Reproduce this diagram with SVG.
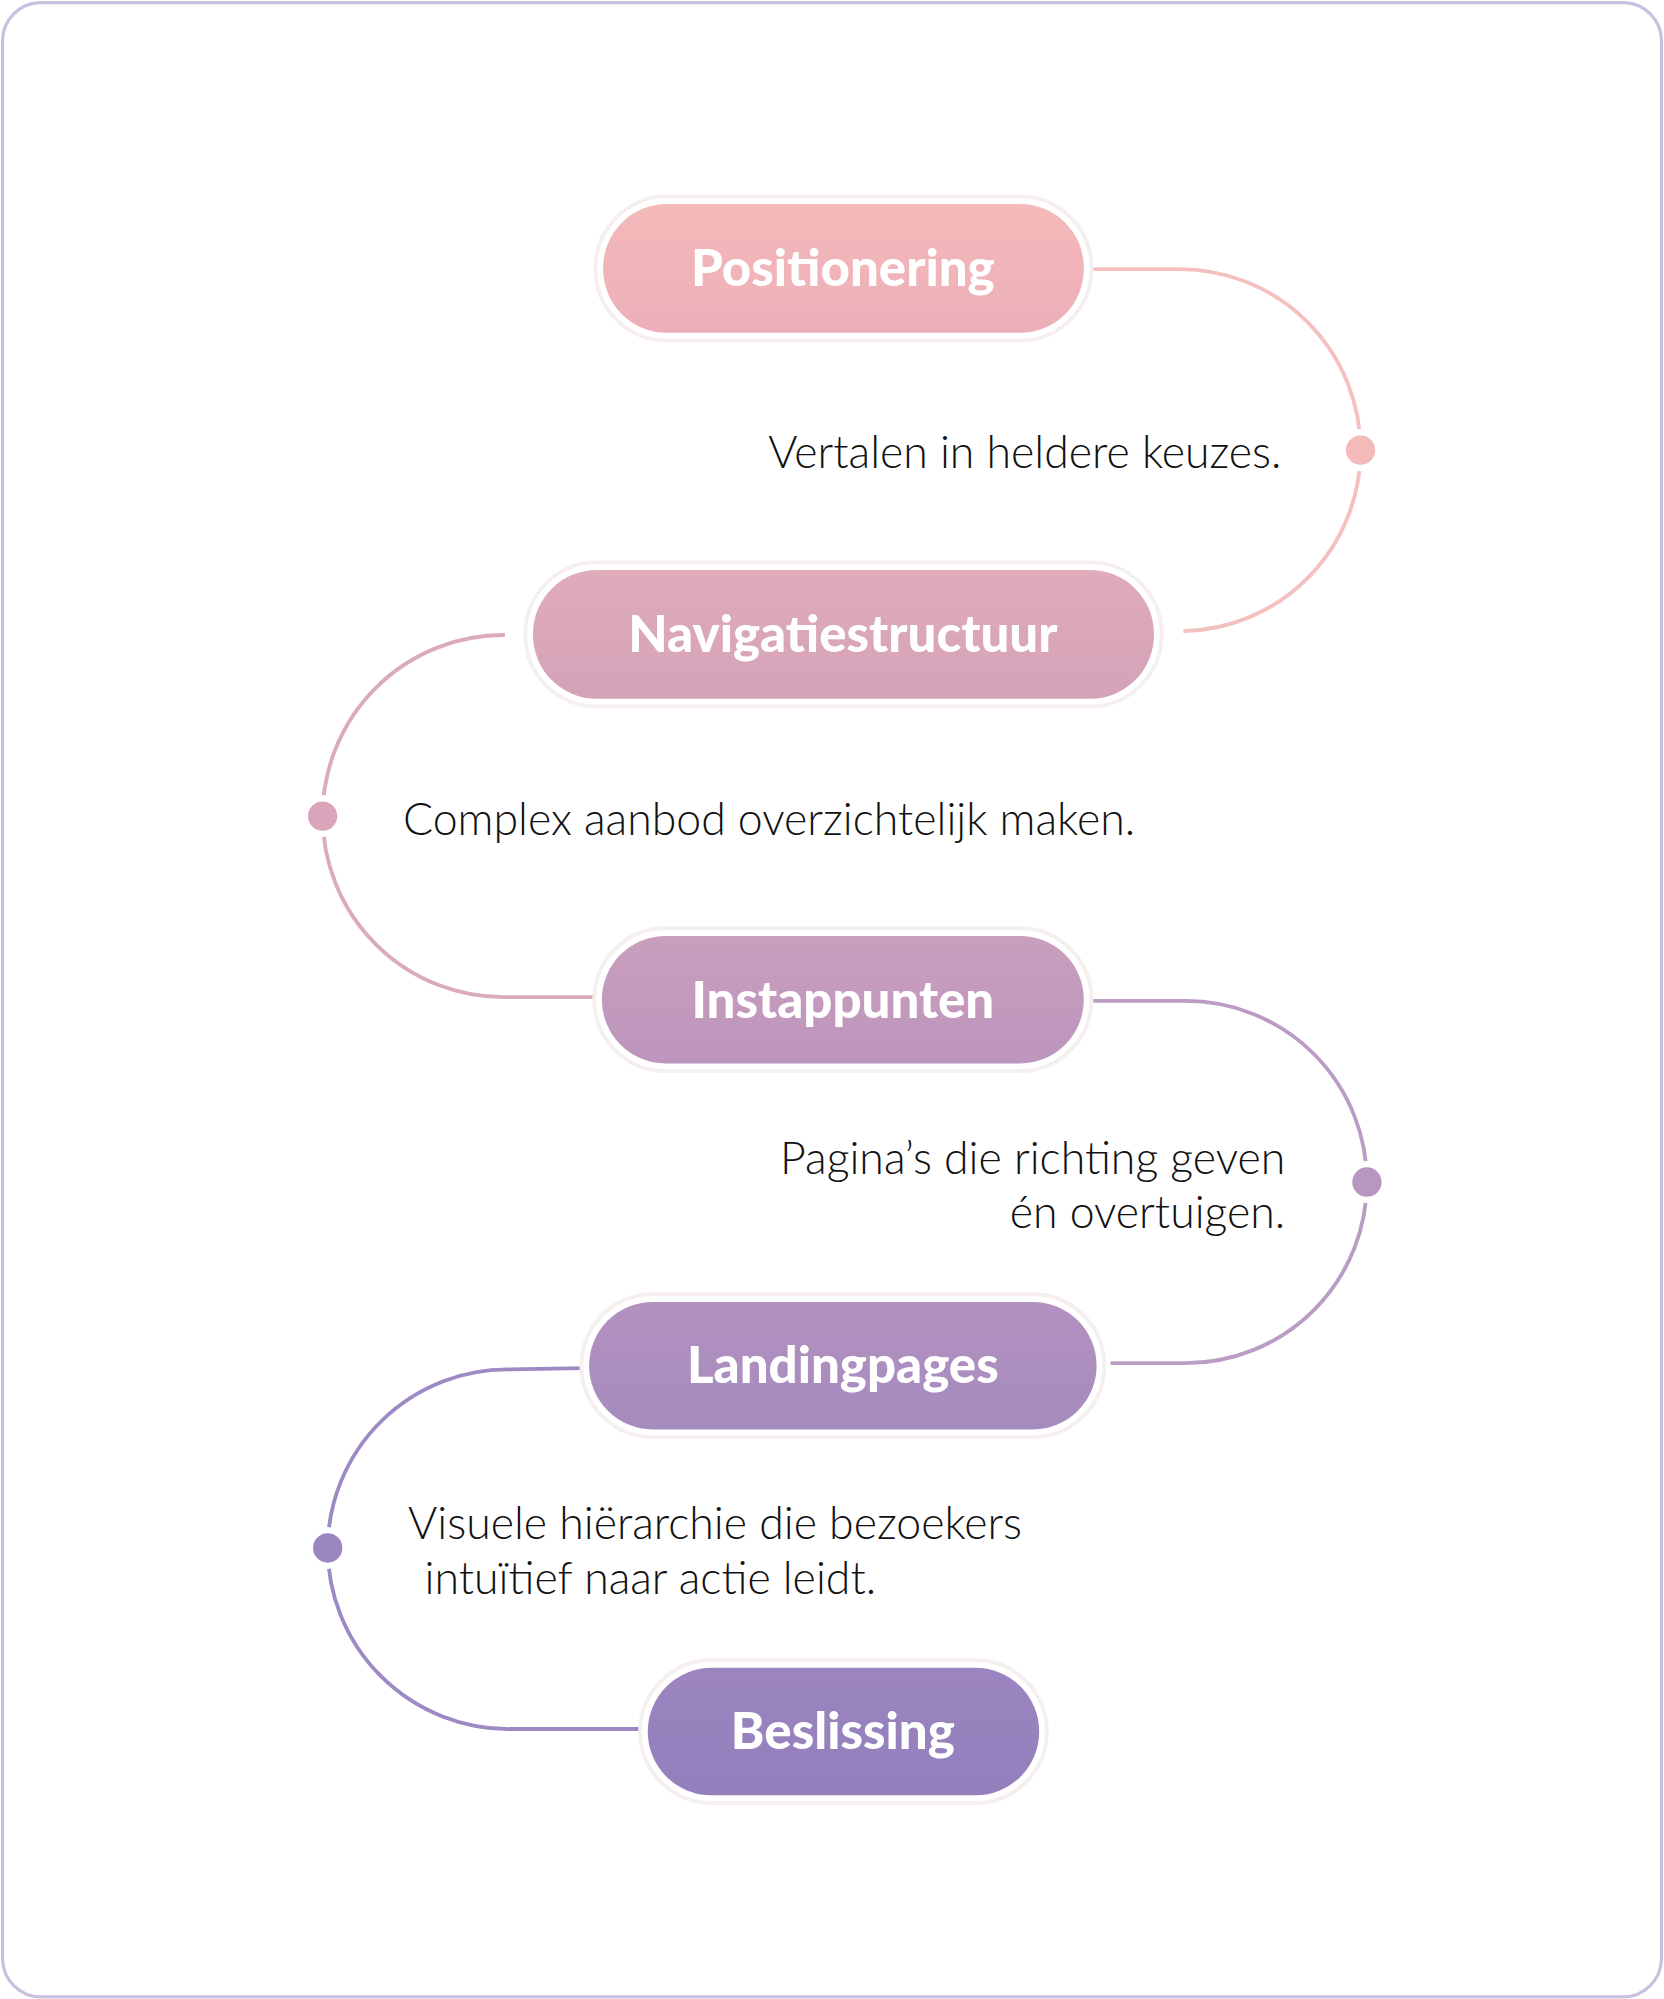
<svg xmlns="http://www.w3.org/2000/svg" width="1664" height="1999" viewBox="0 0 1664 1999">
<defs>
<linearGradient id="g1" x1="0" y1="0" x2="0" y2="1"><stop offset="0" stop-color="#f4b9b9"/><stop offset="1" stop-color="#ecafb9"/></linearGradient>
<linearGradient id="g2" x1="0" y1="0" x2="0" y2="1"><stop offset="0" stop-color="#e0acba"/><stop offset="1" stop-color="#d4a2b9"/></linearGradient>
<linearGradient id="g3" x1="0" y1="0" x2="0" y2="1"><stop offset="0" stop-color="#c99fbd"/><stop offset="1" stop-color="#bd95bd"/></linearGradient>
<linearGradient id="g4" x1="0" y1="0" x2="0" y2="1"><stop offset="0" stop-color="#b291bf"/><stop offset="1" stop-color="#a68bbf"/></linearGradient>
<linearGradient id="g5" x1="0" y1="0" x2="0" y2="1"><stop offset="0" stop-color="#9c85c0"/><stop offset="1" stop-color="#927fbc"/></linearGradient>
</defs>
<style>
.halo{fill:#fff;stroke:#f6efef;stroke-width:3}
.lbl{font-family:"Lato","Liberation Sans",sans-serif;font-weight:900;font-size:40px;fill:#fff;text-anchor:middle}
.txt{font-family:"Lato","Liberation Sans",sans-serif;font-weight:300;font-size:35px;fill:#111}
.c{fill:none;stroke-width:3}
.dot{stroke:#fff;stroke-width:5}
</style>
<rect width="1664" height="1999" fill="#fff"/>
<g transform="scale(1.2751)">
<rect x="2" y="2" width="1301" height="1564" rx="30" fill="#fff" stroke="#c8c0df" stroke-width="2.5"/>
<g id="connectors">
<path class="c" stroke="#f4c0c0" d="M857 211 H925 A142 142 0 0 1 1067 353 A142 142 0 0 1 928 495"/>
<circle class="dot" cx="1067" cy="353" r="14" fill="#f4baba"/>
<path class="c" stroke="#dcaabd" d="M396 498 A142 142 0 0 0 253 640 A142 142 0 0 0 396 782 H467"/>
<circle class="dot" cx="253" cy="640" r="14" fill="#d8a5ba"/>
<path class="c" stroke="#bb9cc4" d="M857 785 H930 A142 142 0 0 1 1072 927 A142 142 0 0 1 930 1069 H871"/>
<circle class="dot" cx="1072" cy="927" r="14" fill="#b896c2"/>
<path class="c" stroke="#9d8ac4" d="M457 1073 L400 1074 A141 141 0 0 0 257 1214 A142 142 0 0 0 400 1356 H502"/>
<circle class="dot" cx="257" cy="1214" r="14" fill="#9a87c2"/>
</g>
<g id="n1"><rect class="halo" x="467" y="154" width="389" height="113" rx="56"/><rect x="473" y="160" width="377" height="101" rx="50" fill="url(#g1)"/><text class="lbl" x="661" y="224">Positionering</text></g>
<g id="n2"><rect class="halo" x="412" y="441" width="499" height="113" rx="56"/><rect x="418" y="447" width="487" height="101" rx="50" fill="url(#g2)"/><text class="lbl" x="661" y="511">Navigatiestructuur</text></g>
<g id="n3"><rect class="halo" x="466" y="728" width="390" height="112" rx="56"/><rect x="472" y="734" width="378" height="100" rx="50" fill="url(#g3)"/><text class="lbl" x="661" y="798">Instappunten</text></g>
<g id="n4"><rect class="halo" x="456" y="1015" width="410" height="112" rx="56"/><rect x="462" y="1021" width="398" height="100" rx="50" fill="url(#g4)"/><text class="lbl" x="661" y="1085">Landingpages</text></g>
<g id="n5"><rect class="halo" x="502" y="1302" width="319" height="112" rx="56"/><rect x="508" y="1308" width="307" height="100" rx="50" fill="url(#g5)"/><text class="lbl" x="661" y="1372">Beslissing</text></g>
<g id="texts">
<text class="txt" x="1005" y="367" text-anchor="end">Vertalen in heldere keuzes.</text>
<text class="txt" x="316" y="655">Complex aanbod overzichtelijk maken.</text>
<text class="txt" x="1008" y="921" text-anchor="end">Pagina’s die richting geven</text>
<text class="txt" x="1008" y="963" text-anchor="end">én overtuigen.</text>
<text class="txt" x="320" y="1207">Visuele hiërarchie die bezoekers</text>
<text class="txt" x="333" y="1250">intuïtief naar actie leidt.</text>
</g>
</g>
</svg>
